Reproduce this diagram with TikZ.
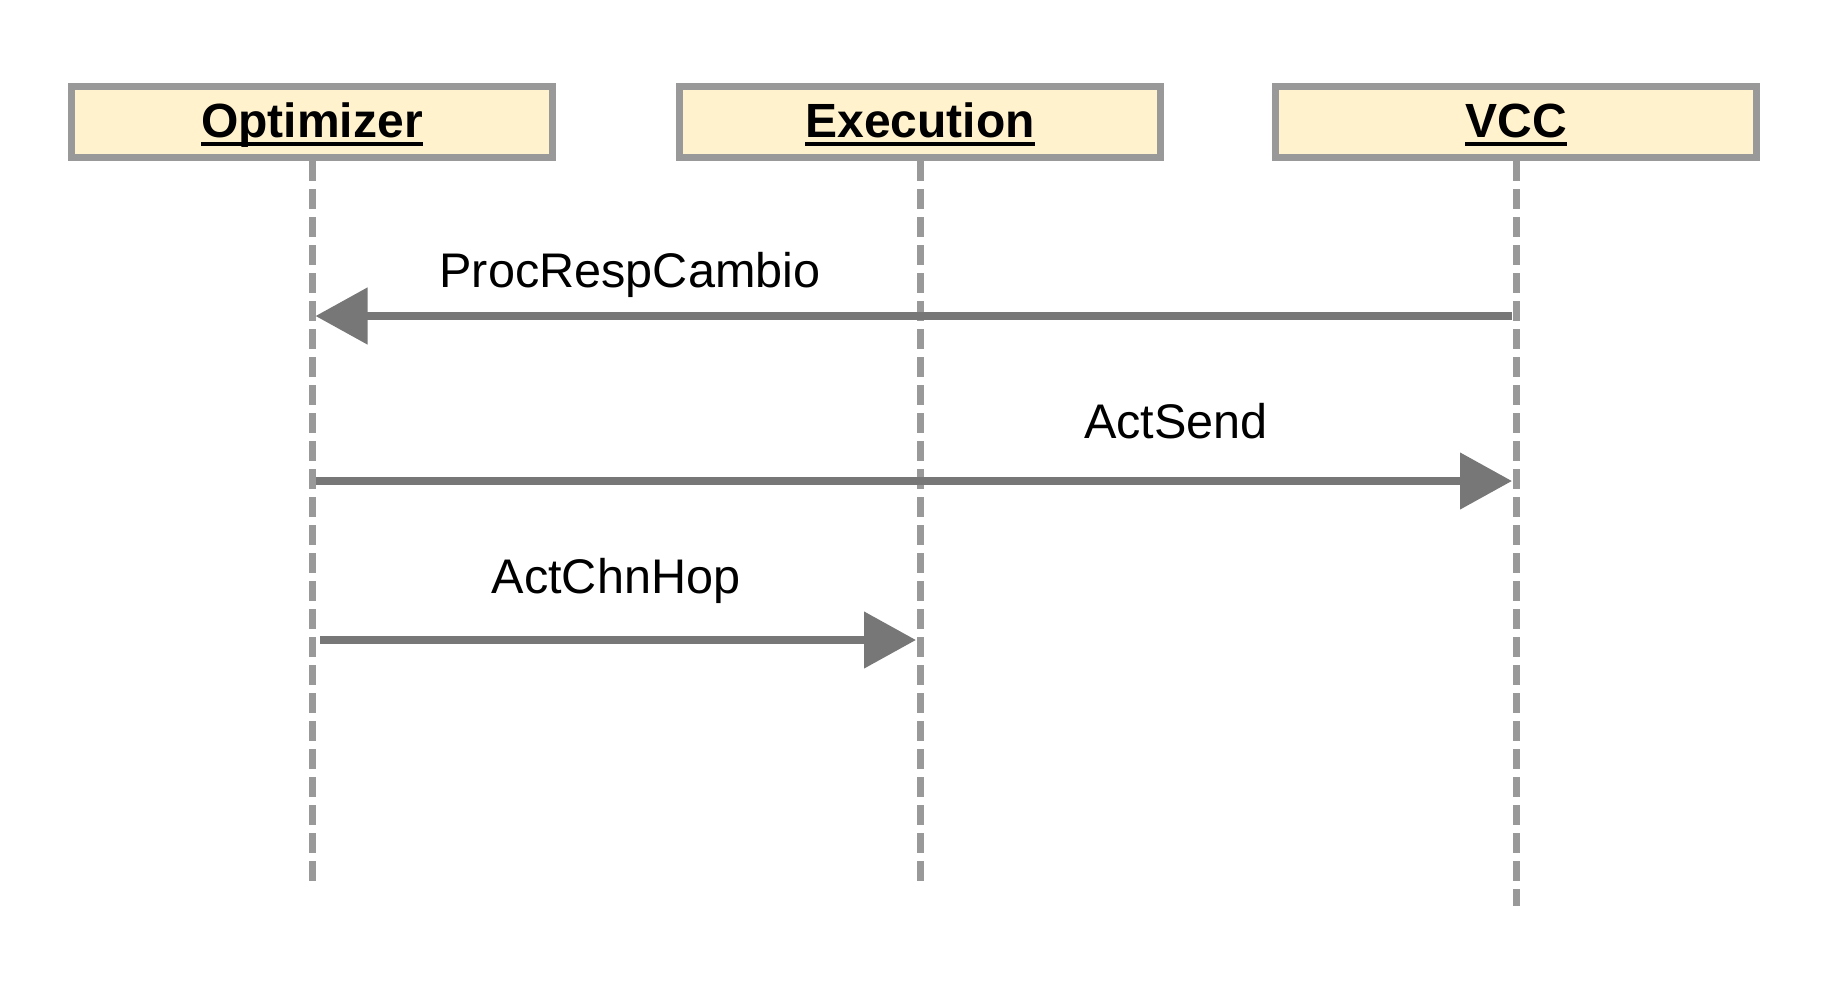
\documentclass[tikz,border=0pt]{standalone}
\usepackage{fontspec}
\setmainfont{Liberation Sans}
\usetikzlibrary{arrows.meta,calc}
\definecolor{boxfill}{HTML}{FFF2CC}
\definecolor{boxline}{HTML}{999999}
\definecolor{msgline}{HTML}{777777}
\newcommand{\hdrline}[1]{\setbox0\hbox{#1}\rlap{\vrule height -2.5pt depth 4.5pt width \wd0}\box0}
\begin{document}
\begin{tikzpicture}[x=0.5pt,y=-0.5pt,
    header/.style={draw=boxline,fill=boxfill,line width=3.5pt,minimum width=240.5pt,minimum height=35.5pt,
        inner sep=0pt,text height=15pt,text depth=0pt,font=\fontsize{24pt}{28pt}\selectfont\bfseries},
    lifeline/.style={draw=boxline,line width=3.5pt,dash pattern=on 10pt off 4pt},
    msg/.style={draw=msgline,line width=4pt,-{Triangle[length=26pt,width=27.5pt]}},
    msglabel/.style={anchor=base,inner sep=0pt,font=\fontsize{24.3pt}{28pt}\selectfont}]
    \useasboundingbox (0,0) rectangle (1844,982);
    \draw[lifeline] (312,161) -- (312,881) coordinate (optend);
    \draw[lifeline] (920,161) -- (920,881) coordinate (exeend);
    \draw[lifeline] (1516,161) -- (1516,906) coordinate (vccend);
    \node[header] (opt) at (312,122) {\hdrline{Optimizer}};
    \node[header] (exe) at (920,122) {\hdrline{Execution}};
    \node[header] (vcc) at (1516,122) {\hdrline{VCC}};
    \coordinate (m1) at (0,316);
    \coordinate (m2) at (0,481);
    \coordinate (m3) at (0,640);
    \draw[msg] ($(vcc |- m1)+(-4,0)$) -- ($(opt |- m1)+(3.5,0)$);
    \node[msglabel] (procresp) at (630,287) {ProcRespCambio};
    \draw[msg] ($(opt |- m2)+(3.5,0)$) -- ($(vcc |- m2)+(-4,0)$);
    \node[msglabel] (actsend) at (1176,438) {ActSend};
    \draw[msg] ($(opt |- m3)+(8,0)$) -- ($(exe |- m3)+(-4,0)$);
    \node[msglabel] (actchn) at (616,593) {ActChnHop};
\end{tikzpicture}
\end{document}
